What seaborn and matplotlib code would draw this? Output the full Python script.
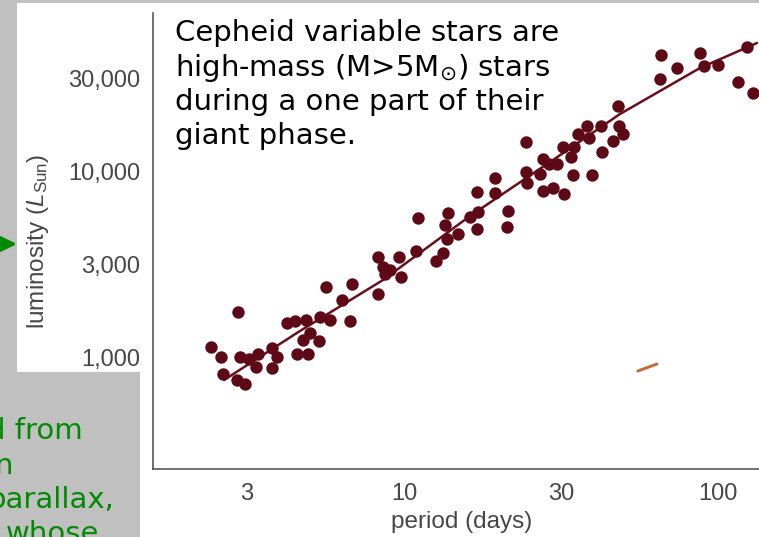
import numpy as np
import matplotlib
matplotlib.use("Agg")
import matplotlib.pyplot as plt
import seaborn as sns
import pandas as pd
from matplotlib.patches import Rectangle, FancyArrowPatch
from matplotlib.transforms import IdentityTransform

# Cepheid period-luminosity data
period = [2.33, 2.50, 2.54, 2.80, 2.96, 2.82, 2.86, 3.05, 3.26, 3.22,
          3.63, 3.78, 3.63, 4.08, 4.34, 4.72, 4.40, 4.79, 4.61, 4.86,
          5.21, 5.25, 5.67, 5.50, 6.22, 6.71, 6.61, 8.19, 8.19, 8.51,
          8.98, 8.65, 9.77, 9.63, 11.0, 10.9, 12.5, 13.1, 13.5, 13.3,
          13.6, 14.6, 15.9, 16.7, 16.7, 16.8, 18.9, 18.9, 20.7, 20.6,
          23.5, 23.5, 23.7, 25.9, 26.5, 27.6, 29.2, 26.5, 28.4, 30.7,
          30.5, 32.4, 33.1, 34.2, 32.9, 38.1, 36.6, 37.2, 40.8, 41.1,
          44.7, 46.5, 46.8, 48.3, 64.6, 64.1, 73.0, 87.1, 89.8, 100.0,
          122.5, 115.0, 127.8]
luminosity = [1139, 1012, 813, 752, 714, 1722, 1012, 987, 1048, 890,
              1125, 1012, 879, 1512, 1548, 1566, 1048, 1048, 1237, 1344,
              1223, 1623, 1566, 2313, 1984, 2396, 1548, 2130, 3327, 2930,
              2828, 2697, 2603, 3327, 5513, 3596, 3160, 3504, 4201, 5035,
              5883, 4481, 5585, 4780, 7719, 5960, 9254, 7621, 6037, 4907,
              14250, 10000, 8677, 9745, 11660, 10990, 10990, 7820, 8131, 7520,
              13440, 11940, 13440, 15660, 9621, 9621, 17220, 14940, 17220, 12660,
              14420, 21810, 17220, 15660, 40940, 30000, 34590, 42010, 35500, 35960,
              45390, 28950, 25430]

# fitted relation
fit_period = [2.555, 4.504, 8.511, 15.87, 27.78, 47.17, 87.1, 131.4]
fit_lum = [752, 1376, 2512, 5656, 11250, 19840, 34590, 47820]

# little scan smudge
smudge_period = [54.1, 62.6]
smudge_lum = [845, 925]

x_ticks = [3, 10, 30, 100]
x_ticklabels = ["3", "10", "30", "100"]
y_ticks = [1000, 3000, 10000, 30000]
y_ticklabels = ["1,000", "3,000", "10,000", "30,000"]

note_lines = ["Cepheid variable stars are",
              r"high-mass (M>5$\mathrm{M}_{\odot}$) stars",
              "during a one part of their",
              "giant phase."]
side_lines = ["d from", "n", "parallax,", "whose"]

L3 = np.log10(3)


def fwd(v):
    d = np.log10(np.clip(v, 1e-9, None))
    n = np.floor(d)
    f = d - n
    return n + np.where(f < L3, 0.5 * f / L3, 0.5 + 0.5 * (f - L3) / (1 - L3))


def inv(s):
    s = np.asarray(s, dtype=float)
    n = np.floor(s)
    f = s - n
    d = n + np.where(f < 0.5, f / 0.5 * L3, L3 + (f - 0.5) / 0.5 * (1 - L3))
    return 10 ** d


sns.set_style("white")
plt.rcParams['font.family'] = ['Liberation Sans', 'DejaVu Sans']
plt.rcParams['mathtext.fontset'] = 'custom'
plt.rcParams['mathtext.rm'] = 'Liberation Sans'
plt.rcParams['mathtext.it'] = 'Liberation Sans:italic'

W, H = 759, 537
fig = plt.figure(figsize=(W / 100, H / 100), dpi=100)
fig.patch.set_facecolor('#c0c0c0')

# white scan area (L shaped)
fig.add_artist(Rectangle((17 / W, 1 - 372 / H), 123 / W, 369 / H,
                         transform=fig.transFigure, facecolor='white',
                         edgecolor='none', zorder=-1))
fig.add_artist(Rectangle((140 / W, 0), 619 / W, 1 - 3 / H,
                         transform=fig.transFigure, facecolor='white',
                         edgecolor='none', zorder=-1))

green = '#008a00'
for i, line in enumerate(side_lines):
    x0 = [-13, -6, -13, 6][i]
    fig.text(x0 / W, 1 - (439 + 34.5 * i) / H, line, color=green,
             fontsize=21, family='DejaVu Sans', va='baseline', ha='left',
             zorder=-2)

fig.add_artist(FancyArrowPatch((-20, H - 244), (17, H - 244),
                               transform=IdentityTransform(),
                               arrowstyle='-|>,head_length=0.5,head_width=0.24',
                               mutation_scale=20, color=green, lw=2.4,
                               shrinkA=0, shrinkB=0, zorder=-2))

ax_left = 152.7
ax = fig.add_axes([ax_left / W, (H - 469) / H, (W - ax_left) / W, 456 / H])
ax.set_facecolor('white')

df = pd.DataFrame({'period': period, 'luminosity': luminosity})
fit = pd.DataFrame({'period': fit_period, 'luminosity': fit_lum})
dot = '#5e0a16'

sns.lineplot(data=fit, x='period', y='luminosity', ax=ax, color='#6a0f1a',
             lw=1.8, sort=False, zorder=2)
sns.scatterplot(data=df, x='period', y='luminosity', ax=ax, color=dot,
                s=80, linewidth=0, zorder=3)
ax.plot(smudge_period, smudge_lum, color='#c2703c', lw=2.2,
        solid_capstyle='round', zorder=2)

ax.set_xscale('function', functions=(fwd, inv))
ax.set_yscale('function', functions=(fwd, inv))
ax.set_xlim(inv(0.1997), inv(2.1306))
ax.set_ylim(inv(2.4032), inv(4.8548))

ax.set_xticks(x_ticks)
ax.set_xticklabels(x_ticklabels)
ax.set_xticks(inv([0.75, 1.25, 1.75]), minor=True)
ax.set_yticks(y_ticks)
ax.set_yticklabels(y_ticklabels)
ax.set_yticks(inv([2.75, 3.25, 3.75, 4.25, 4.75]), minor=True)

spine_c = '#4b4650'
for side in ['top', 'right']:
    ax.spines[side].set_visible(False)
for side in ['left', 'bottom']:
    ax.spines[side].set_color(spine_c)
    ax.spines[side].set_linewidth(1.1)

ax.tick_params(which='both', direction='in', length=8.5, width=0.9,
               color=spine_c)
ax.tick_params(axis='x', which='major', labelsize=17, labelcolor='#474747', pad=10)
ax.tick_params(axis='y', which='major', labelsize=17, labelcolor='#474747', pad=9)

ax.set_xlabel('period (days)', fontsize=17.5, color='#474747')
ax.xaxis.set_label_coords((462 - ax_left) / (W - ax_left), -0.092)
ax.set_ylabel(r'luminosity ($L_{\mathrm{Sun}}$)', fontsize=17.5, color='#474747')
ax.yaxis.set_label_coords(-0.167, 0.5)

for i, line in enumerate(note_lines):
    fig.text(175 / W, 1 - (41 + 34.5 * i) / H, line, color='black',
             fontsize=21, family='DejaVu Sans', va='baseline', ha='left',
             math_fontfamily='dejavusans', zorder=5)

fig.savefig('out.png', dpi=100, facecolor=fig.get_facecolor())
